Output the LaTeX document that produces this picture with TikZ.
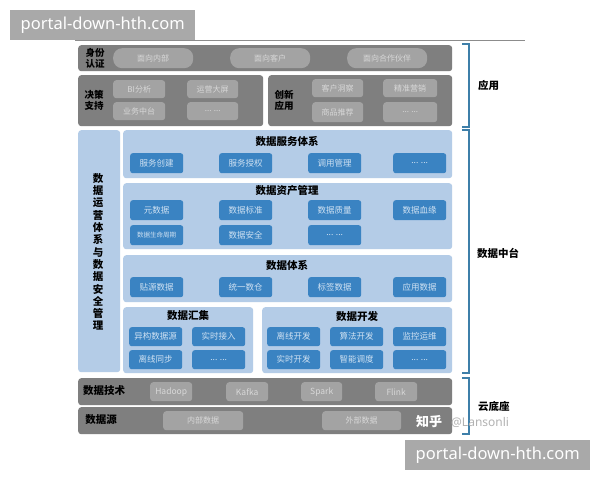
\documentclass[tikz,border=0pt]{standalone}
\usepackage{fontspec}
\setmainfont{Noto Sans CJK SC}
\newfontfamily\wmfont{Noto Sans}
\definecolor{rowgray}{HTML}{7F7F7F}
\definecolor{pillgray}{HTML}{A3A3A3}
\definecolor{pilltext}{HTML}{D8D8D8}
\definecolor{panelblue}{HTML}{B4CCE7}
\definecolor{boxblue}{HTML}{3A83C2}
\definecolor{boxtext}{HTML}{CFE1F2}
\definecolor{bracketblue}{HTML}{3E7FA9}
\definecolor{wmgray}{HTML}{A9A9A9}
\tikzset{
  grayrow/.style={fill=rowgray, rounded corners=3pt, inner sep=0pt},
  graypill/.style={fill=pillgray, rounded corners=#1, inner sep=0pt, text=pilltext, font=\fontsize{8}{9}\selectfont},
  graypill/.default=3pt,
  bluepanel/.style={fill=panelblue, rounded corners=3pt, inner sep=0pt},
  bluebox/.style={fill=boxblue, rounded corners=2.5pt, inner sep=0pt, text=boxtext, font=\fontsize{8.5}{9}\selectfont},
  rowlabel/.style={font=\bfseries\fontsize{9.5}{11}\selectfont, align=center, inner sep=0pt},
  paneltitle/.style={font=\bfseries\fontsize{10.5}{12}\selectfont, inner sep=0pt},
  sidelabel/.style={font=\bfseries\fontsize{10.5}{12}\selectfont, inner sep=0pt, anchor=west},
  bracket/.style={draw=bracketblue, line width=1.2pt},
  wmbox/.style={fill=wmgray, inner sep=0pt, text=white, font=\wmfont\fontsize{16.5}{18}\selectfont}
}
% box from top left to bottom right corner
\def\blk[#1](#2,#3)(#4,#5)#6#7{\node[#1, anchor=north west, minimum width={#4-#2}, minimum height={#5-#3}] (#6) at (#2,#3) {#7};}

\begin{document}
\begin{tikzpicture}[x=1pt, y=-1pt]
		%%%%% START %%%%%
		\useasboundingbox[fill=white] (0,0) rectangle (600,480);

		\draw[color=black!45, line width=0.8pt] (75,40.5) -- (525,40.5);

		% application layer
		\blk[grayrow](78,45)(452,71){auth}{}
		\node[rowlabel] (authlbl) at (95,58) {身份\\认证};
		\blk[graypill=9pt](113,48)(193,68){inner}{面向内部}
		\blk[graypill=9pt](230,48)(310,68){cust}{面向客户}
		\blk[graypill=9pt](347,48)(427,68){partner}{面向合作伙伴}

		\blk[grayrow](78,75)(263,126){decide}{}
		\node[rowlabel] (decidelbl) at (94,100) {决策\\支持};
		\blk[graypill](113,80)(165,98){bi}{BI分析}
		\blk[graypill](187,80)(238,98){screen}{运营大屏}
		\blk[graypill](113,102)(165,120){biz}{业务中台}
		\blk[graypill](187,102)(238,120){decmore}{... ...}

		\blk[grayrow](268,75)(452,126){innov}{}
		\node[rowlabel] (innovlbl) at (284,100) {创新\\应用};
		\blk[graypill](312,79)(363,97){insight}{客户洞察}
		\blk[graypill](383,79)(437,97){market}{精准营销}
		\blk[graypill](312,102)(363,122){recom}{商品推荐}
		\blk[graypill](383,102)(437,122){innmore}{... ...}

		% data middle platform
		\blk[bluepanel](78,130)(120,372){ops}{}
		\node[font=\bfseries\fontsize{10.5}{12.3}\selectfont, align=center, inner sep=0pt] (opslbl) at (98,252)
			{数\\据\\运\\营\\体\\系\\与\\数\\据\\安\\全\\管\\理};

		\blk[bluepanel](123,130)(452,178){svc}{}
		\node[paneltitle] (svclbl) at (287,141) {数据服务体系};
		\blk[bluebox](130,153)(183,173){svcA}{服务创建}
		\blk[bluebox](219,153)(272,173){svcB}{服务授权}
		\blk[bluebox](308,153)(361,173){svcC}{调用管理}
		\blk[bluebox](393,153)(446,173){svcD}{... ...}

		\blk[bluepanel](123,183)(452,249){asset}{}
		\node[paneltitle] (assetlbl) at (287,191) {数据资产管理};
		\blk[bluebox](130,200)(183,220){astA}{元数据}
		\blk[bluebox](219,200)(272,220){astB}{数据标准}
		\blk[bluebox](308,200)(361,220){astC}{数据质量}
		\blk[bluebox](393,200)(446,220){astD}{数据血缘}
		\blk[bluebox, font=\fontsize{6.5}{7}\selectfont](130,225)(183,245){astE}{数据生命周期}
		\blk[bluebox](219,225)(272,245){astF}{数据安全}
		\blk[bluebox](308,225)(361,245){astG}{... ...}

		\blk[bluepanel](123,255)(452,302){dsys}{}
		\node[paneltitle] (dsyslbl) at (287,265) {数据体系};
		\blk[bluebox](130,277)(183,297){dsA}{贴源数据}
		\blk[bluebox](219,277)(272,297){dsB}{统一数仓}
		\blk[bluebox](308,277)(361,297){dsC}{标签数据}
		\blk[bluebox](393,277)(446,297){dsD}{应用数据}

		\blk[bluepanel](123,307)(253,373){collect}{}
		\node[paneltitle] (collectlbl) at (188,316) {数据汇集};
		\blk[bluebox](129,327)(182,346){colA}{异构数据源}
		\blk[bluebox](192,327)(245,346){colB}{实时接入}
		\blk[bluebox](129,350)(182,369){colC}{离线同步}
		\blk[bluebox](192,350)(245,369){colD}{... ...}

		\blk[bluepanel](262,307)(452,373){dev}{}
		\node[paneltitle] (devlbl) at (357,316) {数据开发};
		\blk[bluebox](267,327)(320,346){devA}{离线开发}
		\blk[bluebox](330,327)(383,346){devB}{算法开发}
		\blk[bluebox](393,327)(446,346){devC}{监控运维}
		\blk[bluebox](267,350)(320,369){devD}{实时开发}
		\blk[bluebox](330,350)(383,369){devE}{智能调度}
		\blk[bluebox](393,350)(446,369){devF}{... ...}

		% cloud base
		\blk[grayrow](78,378)(452,405){tech}{}
		\node[rowlabel, font=\bfseries\fontsize{10.5}{12}\selectfont] (techlbl) at (104,391) {数据技术};
		\blk[graypill, font=\fontsize{8.5}{9}\selectfont](150,382)(192,401){hadoop}{Hadoop}
		\blk[graypill, font=\fontsize{8.5}{9}\selectfont](226,382)(268,401){kafka}{Kafka}
		\blk[graypill, font=\fontsize{8.5}{9}\selectfont](301,382)(342,401){spark}{Spark}
		\blk[graypill, font=\fontsize{8.5}{9}\selectfont](375,382)(417,401){flink}{Flink}

		\blk[grayrow](78,407)(452,434){src}{}
		\node[rowlabel, font=\bfseries\fontsize{10.5}{12}\selectfont] (srclbl) at (101,420) {数据源};
		\blk[graypill](163,411)(243,430){insrc}{内部数据}
		\blk[graypill](322,411)(401,430){outsrc}{外部数据}

		% brackets
		\draw[bracket] (462,44) -- (469,44) -- (469,127) -- (462,127);
		\draw[bracket] (462,130) -- (469,130) -- (469,373) -- (462,373);
		\draw[bracket] (462,378) -- (469,378) -- (469,434) -- (462,434);
		\node[sidelabel] (applbl) at (478,85) {应用};
		\node[sidelabel] (midlbl) at (477,253) {数据中台};
		\node[sidelabel] (baselbl) at (478,406) {云底座};

		% watermarks
		\node[anchor=west, inner sep=0pt, text=white, font=\bfseries\fontsize{13}{14}\selectfont] (zhihu) at (416,422) {知乎};
		\node[anchor=west, inner sep=0pt, text=black!30, font=\wmfont\fontsize{12}{13}\selectfont] (author) at (451,422) {@Lansonli};
		\blk[wmbox](10,10)(195,40){wmtop}{portal-down-hth.com}
		\blk[wmbox](405,440)(590,470){wmbot}{portal-down-hth.com}
		%%%%% END %%%%%
\end{tikzpicture}
\end{document}
